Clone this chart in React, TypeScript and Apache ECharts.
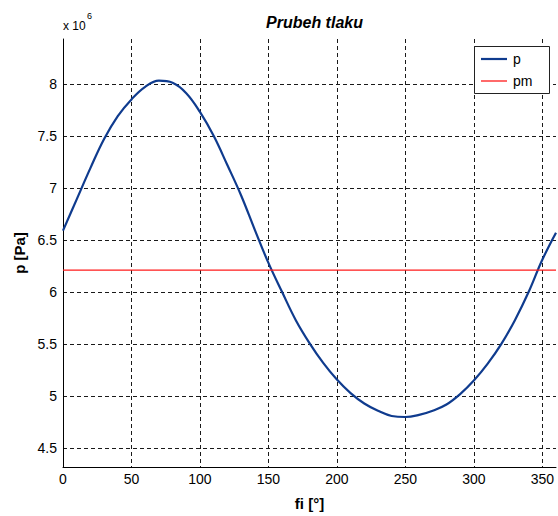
import React, { useEffect, useRef } from "react";
import * as echarts from "echarts";

// crank angle [deg]
const fiValues = [
  0, 10, 20, 30, 40, 50, 60, 70, 80, 90, 100, 110, 120, 130, 140, 150, 160, 170, 180,
  190, 200, 210, 220, 230, 240, 250, 260, 270, 280, 290, 300, 310, 320, 330, 340, 350, 360,
];
// cylinder pressure [x 10^6 Pa]
const pValues = [
  6.59, 6.89, 7.19, 7.47, 7.69, 7.85, 7.97, 8.03, 8.01, 7.91, 7.73, 7.5, 7.22, 6.93, 6.6,
  6.28, 6.0, 5.73, 5.51, 5.32, 5.16, 5.03, 4.93, 4.86, 4.81, 4.8, 4.82, 4.86, 4.92, 5.02,
  5.15, 5.31, 5.5, 5.73, 6.0, 6.31, 6.57,
];
// mean pressure [x 10^6 Pa]
const pmValue = 6.21;

const seriesNames = ["p", "pm"];
const titleText = "Prubeh tlaku";
const xName = "fi [°]";
const yName = "p [Pa]";

const TICK_FONT = "'Liberation Sans Narrow', 'Liberation Sans', Arial, sans-serif";
const LABEL_FONT = "'Liberation Sans', Arial, Helvetica, sans-serif";

const BLUE = "#0f3b8e";
const RED = "#ff1a1a";

export default function App() {
  const ref = useRef<HTMLDivElement>(null);

  useEffect(() => {
    document.body.style.margin = "0";
    if (!ref.current) return;
    const chart = echarts.init(ref.current, undefined, { renderer: "svg" });

    const gridLeft = 63;
    const gridTop = 39;
    const gridWidth = 493;
    const gridHeight = 428;

    const dashed = { color: "#1a1a1a", width: 1, type: [4, 3] as number[] };

    chart.setOption({
      animation: false,
      backgroundColor: "#ffffff",
      title: {
        text: titleText,
        left: gridLeft + gridWidth / 2,
        top: 9,
        textAlign: "center",
        textStyle: {
          fontFamily: LABEL_FONT,
          fontSize: 16,
          fontWeight: "bold",
          fontStyle: "italic",
          color: "#000",
        },
      },
      grid: {
        left: gridLeft,
        top: gridTop,
        width: gridWidth,
        height: gridHeight,
        containLabel: false,
      },
      xAxis: {
        type: "value",
        min: 0,
        max: 360,
        interval: 50,
        name: xName,
        nameLocation: "middle",
        nameGap: 29,
        nameTextStyle: {
          fontFamily: LABEL_FONT,
          fontSize: 15,
          fontWeight: "bold",
          color: "#000",
        },
        axisLine: { show: true, lineStyle: { color: "#000", width: 1 } },
        axisTick: { show: false },
        axisLabel: {
          showMaxLabel: false,
          margin: 5,
          fontFamily: TICK_FONT,
          fontSize: 14,
          color: "#000",
        },
        splitLine: {
          show: true,
          showMinLine: false,
          showMaxLine: false,
          lineStyle: dashed,
        },
      },
      yAxis: {
        type: "value",
        min: 4.32,
        max: 8.43,
        splitNumber: 8,
        minInterval: 0.5,
        maxInterval: 0.5,
        name: yName,
        nameLocation: "middle",
        nameRotate: 90,
        nameGap: 36,
        nameTextStyle: {
          fontFamily: LABEL_FONT,
          fontSize: 15,
          fontWeight: "bold",
          color: "#000",
        },
        axisLine: { show: true, lineStyle: { color: "#000", width: 1 } },
        axisTick: { show: false },
        axisLabel: {
          showMinLabel: false,
          showMaxLabel: false,
          margin: 6,
          fontFamily: TICK_FONT,
          fontSize: 14,
          color: "#000",
        },
        splitLine: {
          show: true,
          showMinLine: false,
          showMaxLine: false,
          lineStyle: dashed,
        },
      },
      series: [
        {
          name: seriesNames[0],
          type: "line",
          data: fiValues.map((fi, i) => [fi, pValues[i]]),
          smooth: 0.4,
          showSymbol: false,
          symbol: "none",
          lineStyle: { color: BLUE, width: 2.2 },
          z: 3,
        },
        {
          name: seriesNames[1],
          type: "line",
          data: [
            [fiValues[0], pmValue],
            [fiValues[fiValues.length - 1], pmValue],
          ],
          showSymbol: false,
          symbol: "none",
          lineStyle: { color: RED, width: 1.3 },
          z: 4,
        },
      ],
      graphic: [
        // exponent of the pressure axis
        {
          type: "text",
          left: 63,
          top: 20,
          z: 100,
          style: {
            text: "x 10",
            font: `12px ${TICK_FONT}`,
            fill: "#000",
          },
        },
        {
          type: "text",
          left: 87,
          top: 11,
          z: 100,
          style: {
            text: "6",
            font: `9px ${TICK_FONT}`,
            fill: "#000",
          },
        },
        // legend box
        {
          type: "group",
          z: 100,
          children: [
            {
              type: "rect",
              shape: { x: 474.5, y: 46.5, width: 75, height: 47 },
              style: { fill: "#fff", stroke: "#222", lineWidth: 1 },
              z: 100,
            },
            {
              type: "line",
              shape: { x1: 481, y1: 59, x2: 507, y2: 59 },
              style: { stroke: BLUE, lineWidth: 2.2 },
              z: 101,
            },
            {
              type: "text",
              x: 513,
              y: 59,
              z: 101,
              style: {
                text: seriesNames[0],
                font: `14px ${TICK_FONT}`,
                fill: "#000",
                verticalAlign: "middle",
              },
            },
            {
              type: "line",
              shape: { x1: 481, y1: 81, x2: 507, y2: 81 },
              style: { stroke: RED, lineWidth: 1.3 },
              z: 101,
            },
            {
              type: "text",
              x: 513,
              y: 81,
              z: 101,
              style: {
                text: seriesNames[1],
                font: `14px ${TICK_FONT}`,
                fill: "#000",
                verticalAlign: "middle",
              },
            },
          ],
        },
      ],
    });

    return () => {
      chart.dispose();
    };
  }, []);

  return <div ref={ref} style={{ width: 558, height: 516 }} />;
}
